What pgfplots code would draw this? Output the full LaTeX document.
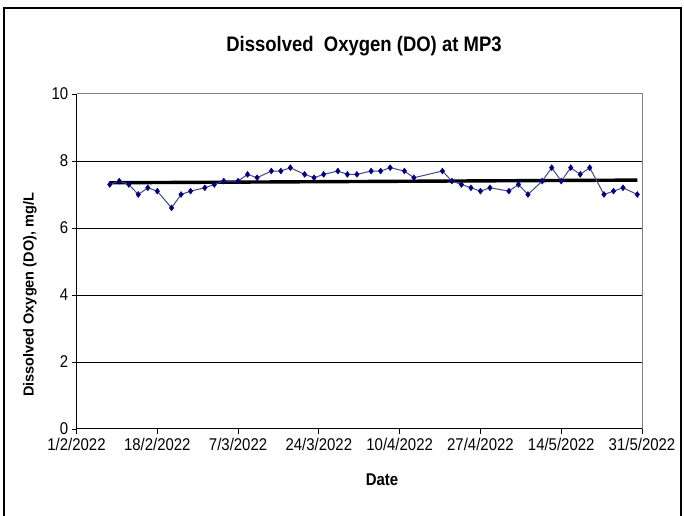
\documentclass[border=0pt]{standalone}
\usepackage{pgfplots}
\pgfplotsset{compat=1.18}
\usepackage{fontspec}
\setmainfont{Liberation Sans}[FakeStretch=0.88]
\newfontfamily\ylabfont{Liberation Sans}
\definecolor{navyd}{RGB}{0,0,128}
\definecolor{serline}{RGB}{70,70,140}
\definecolor{frame}{RGB}{128,128,128}
\begin{document}
\begin{tikzpicture}[x=1bp,y=1bp]
\useasboundingbox (0,0) rectangle (684,516);
\fill[white] (0,0) rectangle (684,516);
\draw[black, line width=1.2bp] (4,-10) -- (4,508) -- (681,508) -- (681,-10);
\begin{axis}[
  at={(76.5bp,87bp)}, anchor=south west,
  scale only axis, width=565.5bp, height=335bp,
  xmin=0, xmax=119, ymin=0, ymax=10,
  axis x line*=bottom, axis y line*=left,
  x axis line style={-, black, line width=1bp},
  y axis line style={-, black, line width=1bp},
  xtick={0,17,34,51,68,85,102,119},
  xticklabels={1/2/2022,18/2/2022,7/3/2022,24/3/2022,10/4/2022,27/4/2022,14/5/2022,31/5/2022},
  ytick={0,10},
  extra y ticks={2,4,6,8},
  extra y tick style={grid=major, grid style={black, line width=0.9bp}},
  tick align=outside, major tick length=5bp,
  tick style={black, line width=0.9bp},
  ticklabel style={font=\fontsize{17bp}{20bp}\selectfont},
  xticklabel style={yshift=-4bp, inner sep=0bp},
  yticklabel style={inner sep=0bp, xshift=-3bp},
  /pgf/number format/assume math mode=true,
  clip=false,
]
\addplot[black, line width=3.4bp, no marks] coordinates {(7,7.35) (118,7.43)};
\addplot[serline, line width=1bp, mark=diamond*, mark size=3bp,
  mark options={fill=navyd, draw=navyd, line width=0.4bp}] coordinates {
(7,7.3) (9,7.4) (11,7.3) (13,7.0) (15,7.2) (17,7.1) (20,6.6) (22,7.0) (24,7.1)
(27,7.2) (29,7.3) (31,7.4) (34,7.4) (36,7.6) (38,7.5) (41,7.7) (43,7.7) (45,7.8)
(48,7.6) (50,7.5) (52,7.6) (55,7.7) (57,7.6) (59,7.6) (62,7.7) (64,7.7) (66,7.8)
(69,7.7) (71,7.5) (77,7.7) (79,7.4) (81,7.3) (83,7.2) (85,7.1) (87,7.2) (91,7.1)
(93,7.3) (95,7.0) (98,7.4) (100,7.8) (102,7.4) (104,7.8) (106,7.6) (108,7.8)
(111,7.0) (113,7.1) (115,7.2) (118,7.0)};
\draw[frame, line width=1bp] (rel axis cs:0,1) -- (rel axis cs:1,1) -- (rel axis cs:1,0);
\end{axis}
\node[font=\bfseries\fontsize{21bp}{24bp}\selectfont] at (364,470) {Dissolved\ \ Oxygen (DO) at MP3};
\node[font=\ylabfont\bfseries\fontsize{14.5bp}{17bp}\selectfont, rotate=90] at (30,221) {Dissolved Oxygen (DO), mg/L};
\node[font=\bfseries\fontsize{17bp}{20bp}\selectfont] at (382,36) {Date};
\end{tikzpicture}
\end{document}
